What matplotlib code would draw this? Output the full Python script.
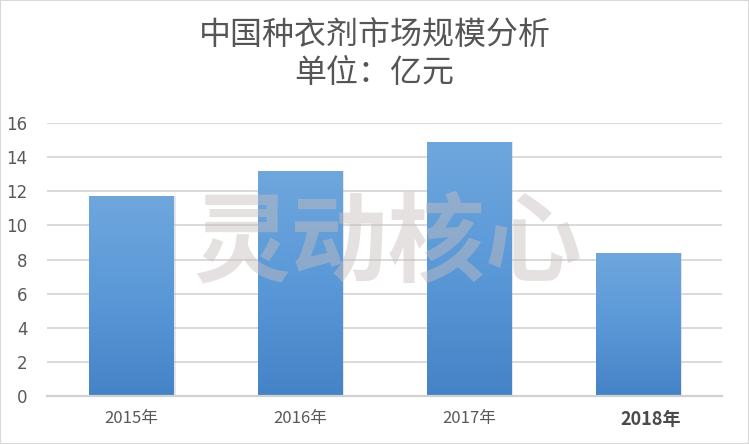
import numpy as np
import matplotlib
matplotlib.use("Agg")
import matplotlib.pyplot as plt
from matplotlib.colors import LinearSegmentedColormap
from matplotlib.transforms import offset_copy

plt.rcParams['font.family'] = ['Noto Sans CJK SC', 'DejaVu Sans']

# Data
years = ["2015年", "2016年", "2017年", "2018年"]
market_size = [11.7, 13.2, 14.9, 8.4]
y_ticks = [0, 2, 4, 6, 8, 10, 12, 14, 16]

title_text = "中国种衣剂市场规模分析\n单位：亿元"
watermark = "灵动核心"

fig = plt.figure(figsize=(7.49, 4.44), dpi=100)
fig.patch.set_facecolor("white")
ax = fig.add_axes([0.063, 0.108, 0.901, 0.615])

x = np.arange(len(years))
bar_w = 0.5
bars = ax.bar(x, market_size, width=bar_w, color="#5b9bd5", zorder=2)

# vertical gradient fill for each bar
cmap = LinearSegmentedColormap.from_list("blue_grad", ["#4583c7", "#5a98d8", "#6fa7dd"])
grad = np.linspace(0, 1, 256).reshape(-1, 1)
for b in bars:
    x0, w, h = b.get_x(), b.get_width(), b.get_height()
    im = ax.imshow(grad, extent=[x0, x0 + w, 0, h], origin="lower", cmap=cmap,
                   aspect="auto", zorder=2.1)
    im.set_clip_path(b)
    # soft shadow edge
    ax.bar(x0 + w / 2 + 0.012, h, width=w, color="#b8b8b8", alpha=0.35, zorder=1.9)

ax.set_xlim(-0.5, len(years) - 0.5)
ax.set_ylim(0, 16)
ax.set_yticks(y_ticks)
ax.set_xticks(x)
ax.set_xticklabels(years)
ax.yaxis.grid(True, color="#d9d9d9", linewidth=1.4, zorder=0)
ax.set_axisbelow(True)
for side in ["top", "right", "left"]:
    ax.spines[side].set_visible(False)
ax.spines["bottom"].set_color("#d0d0d0")
ax.spines["bottom"].set_linewidth(1.6)
ax.tick_params(axis="both", length=0, labelsize=12, colors="#595959")
ax.tick_params(axis="y", pad=14)
ax.tick_params(axis="x", pad=10)
for lbl in ax.get_yticklabels():
    lbl.set_fontfamily(["DejaVu Sans"])
xl = ax.get_xticklabels()
xl[-1].set_fontweight("bold")
xl[-1].set_color("#4a4a4a")
xl[-1].set_fontsize(13)
xl[-1].set_transform(offset_copy(xl[-1].get_transform(), fig=fig, x=13, units="dots"))

fig.text(0.5, 0.955, title_text, ha="center", va="top", fontsize=23,
         color="#555555", linespacing=1.2)

ax.text(0.505, 0.555, watermark, transform=ax.transAxes, ha="center", va="center",
        fontsize=70, fontweight="bold", color="#c8bebe", alpha=0.45, zorder=3)

# thin frame around the figure
fig.add_artist(plt.Rectangle((0, 0), 1, 1, transform=fig.transFigure, fill=False,
                             edgecolor="#d8d8d8", linewidth=1.5))

fig.savefig("out.png", dpi=100, facecolor="white")
